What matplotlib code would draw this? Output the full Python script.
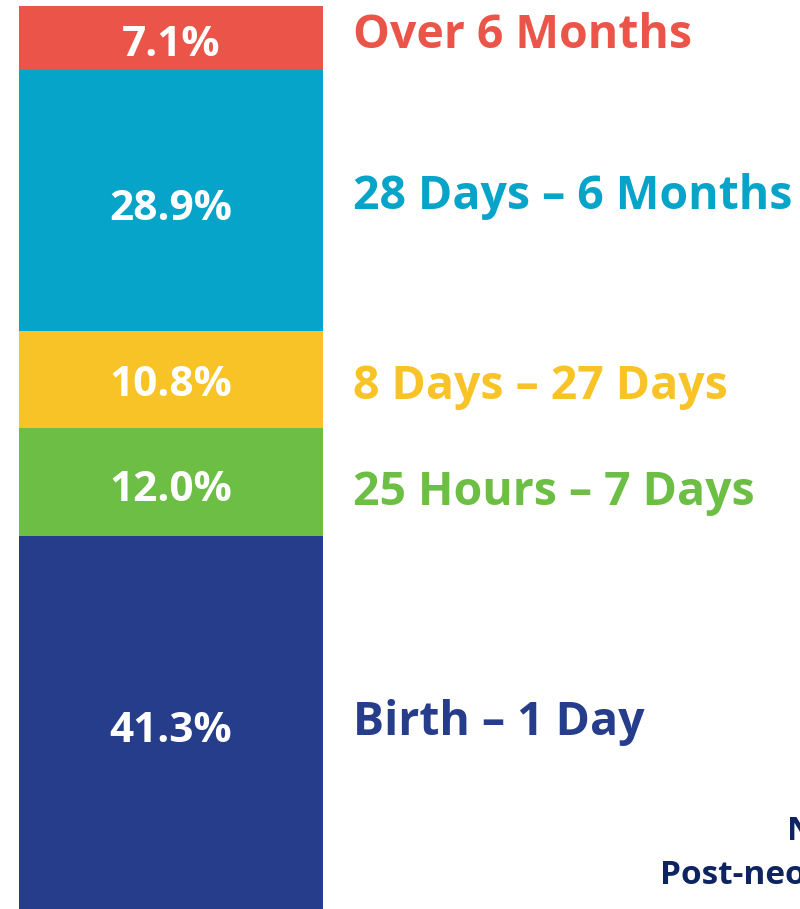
import matplotlib.pyplot as plt

# stacked segments, bottom to top
periods = ["Birth – 1 Day", "25 Hours – 7 Days", "8 Days – 27 Days",
           "28 Days – 6 Months", "Over 6 Months"]
shares = [41.3, 12.0, 10.8, 28.9, 7.1]
colors = ["#263D8C", "#6DBE45", "#F8C327", "#06A4C9", "#EB5549"]

# label rows, in pixels from the top of the image
pct_rows = [731, 490, 386, 209, 45]
name_rows = [722, 492, 387, 196, 36]

W, H = 800, 909
fig = plt.figure(figsize=(W / 100, H / 100), dpi=100)
ax = fig.add_axes([0, 0, 1, 1])
ymax = sum(shares) * H / 903
ax.set_xlim(0, W)
ax.set_ylim(0, ymax)
ax.axis("off")


def py(px):
    return (H - px) * ymax / H


font = "Open Sans"
bottom = 0
for name, val, col, pr, nr in zip(periods, shares, colors, pct_rows, name_rows):
    ax.bar(171, val, width=304, bottom=bottom, color=col, linewidth=0)
    ax.text(171, py(pr), f"{val:.1f}%", color="white", ha="center", va="center",
            fontsize=30.5, fontweight="bold", family=font)
    ax.text(353, py(nr), name, color=col, ha="left", va="center",
            fontsize=33.4, fontweight="bold", family=font)
    bottom += val

ax.text(787, py(831), "Neonatal", color="#0D2461", ha="left", va="center",
        fontsize=24, fontweight="bold", family=font)
ax.text(660, py(875), "Post-neonatal", color="#0D2461", ha="left", va="center",
        fontsize=24, fontweight="bold", family=font)

fig.savefig("out.png", dpi=100)
